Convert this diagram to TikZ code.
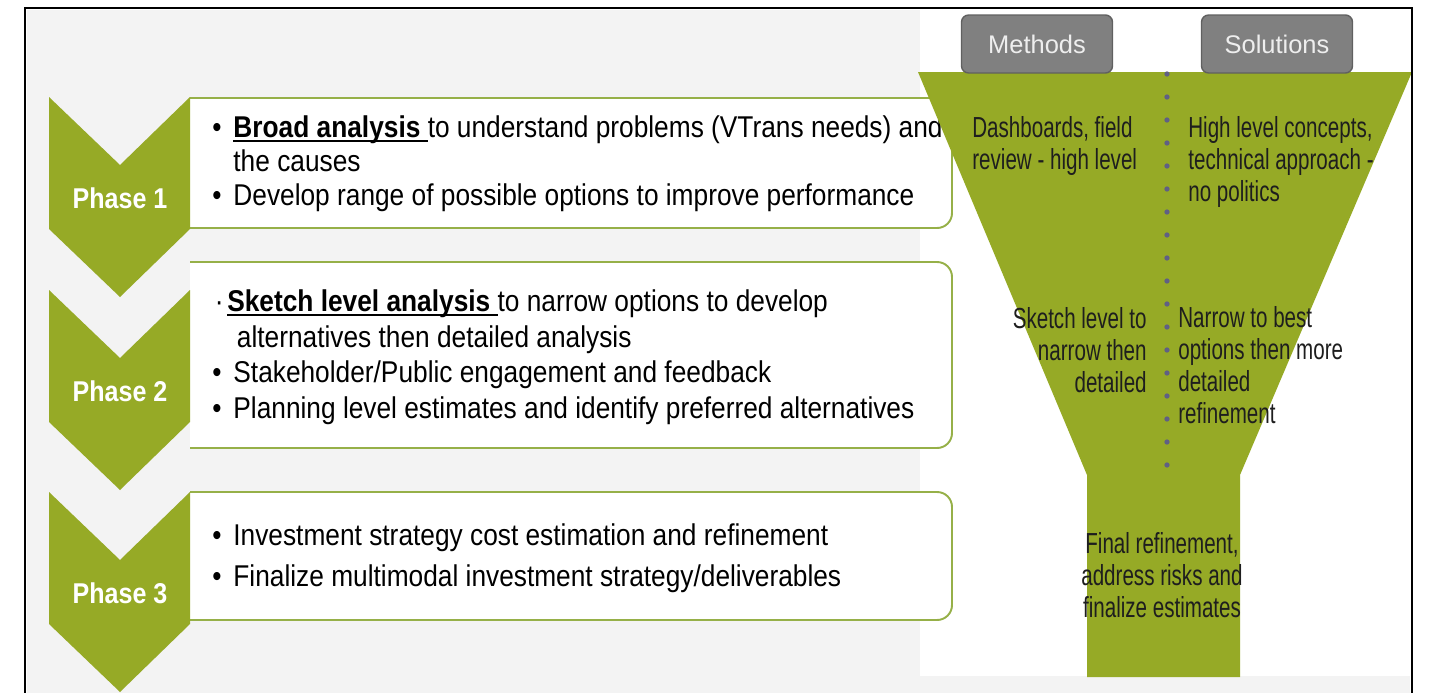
\documentclass[tikz,border=0pt]{standalone}
\usepackage{fontspec}
\setmainfont{Liberation Sans}
\newfontfamily\bodyfont[FakeStretch=0.875]{Liberation Sans}
\newfontfamily\narrowfont[FakeStretch=0.71]{Liberation Sans}
\usetikzlibrary{positioning}
\definecolor{chevgreen}{RGB}{150,170,38}
\definecolor{boxgreen}{RGB}{150,176,72}
\definecolor{headgray}{RGB}{128,128,128}
\definecolor{headline}{RGB}{96,96,96}
\definecolor{headtext}{RGB}{238,238,238}
\definecolor{dotblue}{RGB}{96,96,132}
\definecolor{bgleft}{RGB}{243,243,243}
\definecolor{funneltxt}{RGB}{30,30,30}
\tikzset{x=0.02cm, y=-0.02cm}
\tikzstyle{chevron} = [fill=chevgreen, draw=none]
\tikzstyle{phase} = [text=white, inner sep=0pt, font=\bodyfont\bfseries\fontsize{16.3}{19}\selectfont]
\tikzstyle{stepbox} = [draw=boxgreen, line width=1.1pt, fill=white, rounded corners=8.5pt]
\tikzstyle{bullets} = [anchor=west, align=left, inner sep=0pt, font=\bodyfont\fontsize{17.1}{19.4}\selectfont]
\tikzstyle{header} = [draw=headline, fill=headgray, line width=0.8pt, rounded corners=4pt, minimum width=3.02cm, minimum height=1.16cm, text=headtext, font=\fontsize{14.5}{17}\selectfont]
\tikzstyle{funneltext} = [inner sep=0pt, text=funneltxt, font=\narrowfont\fontsize{16.5}{18.2}\selectfont]
\newcommand{\bul}{\makebox[12pt][l]{\textbullet}}
\newcommand{\uln}[1]{\setbox0\hbox{#1}\rlap{\rule[-2.6pt]{\wd0}{1.1pt}}\box0}

\begin{document}
\begin{tikzpicture}
\useasboundingbox (0,0) rectangle (1431,693);
\fill[white] (0,0) rectangle (1431,693);
\fill[bgleft] (27,10) rectangle (1410,693);
\fill[white] (920,10) rectangle (1410,676);

\draw[stepbox] (190,98) -- (952,98) -- (952,228) -- (190,228);
\draw[stepbox] (190,262) -- (952,262) -- (952,448) -- (190,448);
\draw[stepbox] (190,492) -- (952,492) -- (952,620) -- (190,620);

\foreach \t/\n in {97/1, 290/2, 492/3} {
  \fill[chevron] (49,\t) -- (120,\t+68) -- (190,\t) -- (190,\t+132) -- (120,\t+200) -- (49,\t+132) -- cycle;
  \node[phase] (phase\n) at (120,\t+101) {Phase \n};
}

\node[bullets] (broad) at (212,164) {\bul\uln{\textbf{Broad analysis}\ }to understand problems (VTrans needs) and\\\hspace*{12pt}the causes\\\bul Develop range of possible options to improve performance};
\node[bullets, font=\bodyfont\fontsize{17.1}{20.2}\selectfont] (sketch) at (212,357) {\makebox[8.5pt][l]{\hspace{1.5pt}·}\uln{\textbf{Sketch level analysis}\ }to narrow options to develop\\\hspace*{14pt}alternatives then detailed analysis\\\bul Stakeholder/Public engagement and feedback\\\bul Planning level estimates and identify preferred alternatives};
\node[bullets] (invest) at (212,558) {\bul Investment strategy cost estimation and refinement\\[4pt]\bul Finalize multimodal investment strategy/deliverables};

\fill[chevgreen] (918,72) -- (1412,72) -- (1240,475) -- (1240,677) -- (1087,677) -- (1087,475) -- cycle;
\foreach \i in {0,...,17}
  \fill[dotblue] (1167,74+23*\i) circle (1.5pt);

\node[header] (methods) at (1037,44) {Methods};
\node[header] (solutions) at (1277,44) {Solutions};

\node[funneltext, anchor=west, align=left] (dash) at (972,146) {Dashboards, field\\review - high level};
\node[funneltext, anchor=west, align=left] (concepts) at (1188,162) {High level concepts,\\technical approach -\\no politics};
\node[funneltext, anchor=east, align=right] (sketchlvl) at (1147,350) {Sketch level to\\narrow then\\detailed};
\node[funneltext, anchor=west, align=left] (narrowbest) at (1178,365) {Narrow to best\\options then more\\detailed\\refinement};
\node[funneltext, align=center] (final) at (1162,575) {Final refinement,\\address risks and\\finalize estimates};

\draw[line width=1.6pt] (25,693) -- (25,8) -- (1412,8) -- (1412,693);
\end{tikzpicture}
\end{document}
